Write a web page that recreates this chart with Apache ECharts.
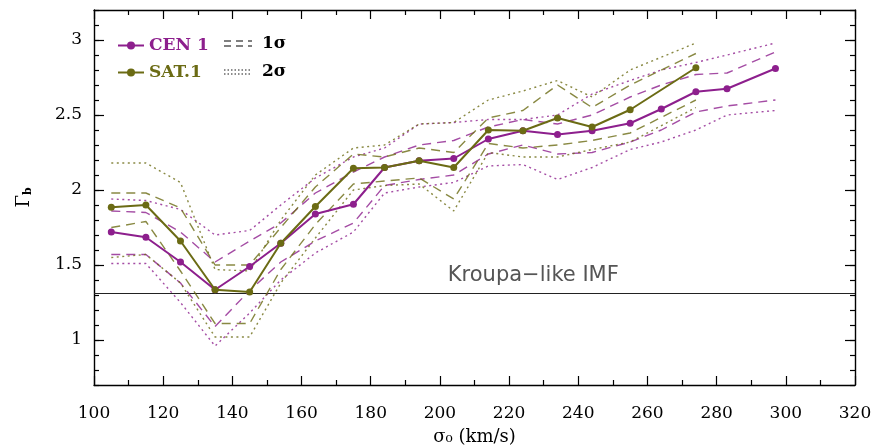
<!DOCTYPE html>
<html>
<head>
<meta charset="utf-8">
<script src="https://cdn.jsdelivr.net/npm/echarts@6/dist/echarts.min.js"></script>
<style>
  html, body { margin: 0; padding: 0; background: #ffffff; }
  #chart { width: 877px; height: 446px; }
</style>
</head>
<body>
<div id="chart"></div>
<script>
// Velocity dispersion bins (km/s)
const cenSigma = [105, 115, 125, 135, 145, 154, 164, 175, 184, 194, 204, 214, 224, 234, 244, 255, 264, 274, 283, 297];
const satSigma = [105, 115, 125, 135, 145, 154, 164, 175, 184, 194, 204, 214, 224, 234, 244, 255, 274];

// CEN 1: best-fit IMF slope and its 1σ / 2σ envelopes
const cenGamma   = [1.72, 1.685, 1.52, 1.335, 1.49, 1.645, 1.84, 1.905, 2.15, 2.195, 2.21, 2.34, 2.395, 2.37, 2.395, 2.445, 2.54, 2.655, 2.675, 2.81];
const cenUp1     = [1.86, 1.85, 1.72, 1.52, 1.66, 1.78, 1.98, 2.12, 2.22, 2.30, 2.33, 2.42, 2.47, 2.44, 2.50, 2.62, 2.70, 2.77, 2.78, 2.92];
const cenLo1     = [1.57, 1.57, 1.38, 1.09, 1.33, 1.52, 1.66, 1.78, 2.03, 2.07, 2.10, 2.24, 2.30, 2.24, 2.25, 2.32, 2.40, 2.52, 2.56, 2.60];
const cenUp2     = [1.94, 1.93, 1.87, 1.70, 1.73, 1.90, 2.08, 2.22, 2.28, 2.44, 2.45, 2.47, 2.47, 2.50, 2.64, 2.73, 2.80, 2.85, 2.90, 2.98];
const cenLo2     = [1.51, 1.51, 1.25, 0.96, 1.18, 1.40, 1.58, 1.72, 1.98, 2.02, 2.05, 2.16, 2.17, 2.07, 2.15, 2.27, 2.32, 2.40, 2.50, 2.53];

// SAT.1: best-fit IMF slope and its 1σ / 2σ envelopes
const satGamma   = [1.885, 1.90, 1.66, 1.335, 1.32, 1.645, 1.89, 2.145, 2.15, 2.195, 2.15, 2.40, 2.395, 2.48, 2.42, 2.535, 2.815];
const satUp1     = [1.98, 1.98, 1.88, 1.50, 1.50, 1.75, 2.02, 2.24, 2.22, 2.28, 2.25, 2.48, 2.53, 2.70, 2.55, 2.70, 2.91];
const satLo1     = [1.75, 1.79, 1.46, 1.11, 1.11, 1.47, 1.77, 2.04, 2.06, 2.08, 1.94, 2.31, 2.28, 2.30, 2.33, 2.38, 2.60];
const satUp2     = [2.18, 2.18, 2.05, 1.47, 1.46, 1.80, 2.10, 2.28, 2.30, 2.44, 2.45, 2.60, 2.66, 2.73, 2.62, 2.80, 2.98];
const satLo2     = [1.55, 1.57, 1.38, 1.02, 1.02, 1.38, 1.68, 2.00, 2.03, 2.04, 1.86, 2.25, 2.22, 2.22, 2.27, 2.32, 2.55];

// Reference slope of a Kroupa-like IMF
const kroupaGamma = 1.31;

// Labelled (major) y ticks
const yLabels = [1, 1.5, 2, 2.5, 3];

const PURPLE = '#8d1f8d';
const OLIVE = '#6b6b14';
const SERIF = '"DejaVu Serif", "Liberation Serif", serif';

const pairs = (xs, ys) => xs.map((x, i) => [x, ys[i]]);

function band(name, xs, ys, color, type) {
  return {
    name: name,
    type: 'line',
    data: pairs(xs, ys),
    symbol: 'none',
    silent: true,
    z: 2,
    lineStyle: { color: color, width: 1.4, type: type, opacity: 0.8 }
  };
}

const dash = [9, 6];
const dot = [2, 3.5];

const chart = echarts.init(document.getElementById('chart'), null, { renderer: 'canvas' });

const tickStyle = { color: '#000', width: 1.2 };
const frameLine = { show: true, onZero: false, lineStyle: { color: '#000', width: 1.4 } };

const option = {
  animation: false,
  backgroundColor: '#ffffff',
  grid: { left: 94, right: 22, top: 10, bottom: 61, outerBoundsMode: 'none', containLabel: false },
  legend: {
    orient: 'vertical',
    left: 112,
    top: 32,
    itemWidth: 26,
    itemHeight: 10,
    itemGap: 10,
    data: [
      { name: 'CEN 1', textStyle: { color: PURPLE } },
      { name: 'SAT.1', textStyle: { color: OLIVE } }
    ],
    textStyle: { fontFamily: SERIF, fontWeight: 'bold', fontSize: 17 }
  },
  xAxis: [
    {
      type: 'value', min: 100, max: 320, interval: 20, position: 'bottom',
      name: 'σ₀ (km/s)',
      nameLocation: 'middle', nameGap: 43,
      nameTextStyle: { fontFamily: SERIF, fontSize: 18, color: '#000' },
      axisLine: frameLine,
      axisTick: { show: true, inside: true, length: 9, lineStyle: tickStyle },
      minorTick: { show: true, splitNumber: 2, length: 5, lineStyle: tickStyle },
      axisLabel: { margin: 20, fontFamily: SERIF, fontSize: 17, color: '#000' },
      splitLine: { show: false }
    },
    {
      type: 'value', min: 100, max: 320, interval: 20, position: 'top',
      axisLine: frameLine,
      axisTick: { show: true, inside: true, length: 9, lineStyle: tickStyle },
      minorTick: { show: true, splitNumber: 2, length: 5, lineStyle: tickStyle },
      axisLabel: { show: false },
      splitLine: { show: false }
    }
  ],
  yAxis: [
    {
      type: 'value', min: 0.7, max: 3.2, interval: 0.1, position: 'left',
      name: 'Γ{s|b}',
      nameLocation: 'middle', nameGap: 60, nameRotate: 90,
      nameTextStyle: { fontFamily: SERIF, fontSize: 18, color: '#000', rich: { s: { fontFamily: SERIF, fontSize: 11, fontWeight: 'bold', verticalAlign: 'bottom', padding: [8, 0, 0, 0] } } },
      axisLine: frameLine,
      axisTick: { show: true, inside: true, length: 5, lineStyle: tickStyle },
      axisLabel: {
        margin: 12, fontFamily: SERIF, fontSize: 17, color: '#000',
        formatter: function (v) {
          const r = Math.round(v * 2) / 2;
          if (Math.abs(v - r) > 1e-6) return '';
          return yLabels.indexOf(r) >= 0 ? String(r) : '';
        }
      },
      splitLine: { show: false }
    },
    {
      type: 'value', min: 0.7, max: 3.2, interval: 0.1, position: 'right',
      axisLine: frameLine,
      axisTick: { show: true, inside: true, length: 5, lineStyle: tickStyle },
      axisLabel: { show: false },
      splitLine: { show: false }
    }
  ],
  series: [
    band('CEN 1 +1σ', cenSigma, cenUp1, PURPLE, dash),
    band('CEN 1 -1σ', cenSigma, cenLo1, PURPLE, dash),
    band('CEN 1 +2σ', cenSigma, cenUp2, PURPLE, dot),
    band('CEN 1 -2σ', cenSigma, cenLo2, PURPLE, dot),
    band('SAT.1 +1σ', satSigma, satUp1, OLIVE, dash),
    band('SAT.1 -1σ', satSigma, satLo1, OLIVE, dash),
    band('SAT.1 +2σ', satSigma, satUp2, OLIVE, dot),
    band('SAT.1 -2σ', satSigma, satLo2, OLIVE, dot),
    {
      name: 'Kroupa-like IMF',
      type: 'line',
      data: [[100, kroupaGamma], [320, kroupaGamma]],
      symbol: 'none',
      silent: true,
      z: 1,
      lineStyle: { color: '#222', width: 1.1 }
    },
    {
      name: 'CEN 1',
      type: 'line',
      data: pairs(cenSigma, cenGamma),
      symbol: 'circle',
      symbolSize: 7,
      z: 5,
      itemStyle: { color: PURPLE },
      lineStyle: { color: PURPLE, width: 2 }
    },
    {
      name: 'SAT.1',
      type: 'line',
      data: pairs(satSigma, satGamma),
      symbol: 'circle',
      symbolSize: 7,
      z: 6,
      itemStyle: { color: OLIVE },
      lineStyle: { color: OLIVE, width: 2 }
    }
  ]
};

chart.setOption(option);

// Longer ticks at the labelled y values (both frame sides), the legend
// samples for the envelope line styles, and the Kroupa label
const gfx = [];
const xLeft = chart.convertToPixel({ xAxisIndex: 0 }, 100);
const xRight = chart.convertToPixel({ xAxisIndex: 0 }, 320);
yLabels.forEach(function (v) {
  const y = Math.round(chart.convertToPixel({ yAxisIndex: 0 }, v)) + 0.5;
  gfx.push({ type: 'line', silent: true, shape: { x1: xLeft, y1: y, x2: xLeft + 10, y2: y }, style: { stroke: '#000', lineWidth: 1.2 } });
  gfx.push({ type: 'line', silent: true, shape: { x1: xRight - 10, y1: y, x2: xRight, y2: y }, style: { stroke: '#000', lineWidth: 1.2 } });
});
gfx.push(
  { type: 'line', shape: { x1: 224, y1: 41, x2: 252, y2: 41 }, style: { stroke: '#555', lineWidth: 1.5, lineDash: [7, 5] } },
  { type: 'line', shape: { x1: 224, y1: 46, x2: 252, y2: 46 }, style: { stroke: '#555', lineWidth: 1.5, lineDash: [7, 5] } },
  { type: 'text', x: 262, y: 44, style: { text: '1σ', fill: '#000', font: 'bold 17px ' + SERIF, verticalAlign: 'middle' } },
  { type: 'line', shape: { x1: 224, y1: 70, x2: 252, y2: 70 }, style: { stroke: '#666', lineWidth: 1.3, lineDash: [1.5, 2] } },
  { type: 'line', shape: { x1: 224, y1: 74, x2: 252, y2: 74 }, style: { stroke: '#666', lineWidth: 1.3, lineDash: [1.5, 2] } },
  { type: 'text', x: 262, y: 72, style: { text: '2σ', fill: '#000', font: 'bold 17px ' + SERIF, verticalAlign: 'middle' } }
);
const kp = chart.convertToPixel({ xAxisIndex: 0, yAxisIndex: 0 }, [227, kroupaGamma]);
gfx.push({ type: 'text', x: kp[0], y: kp[1] - 7, style: { text: 'Kroupa−like IMF', fill: '#555', font: '21px "DejaVu Sans", sans-serif', align: 'center', verticalAlign: 'bottom' } });
chart.setOption({ graphic: gfx });
</script>
</body>
</html>
